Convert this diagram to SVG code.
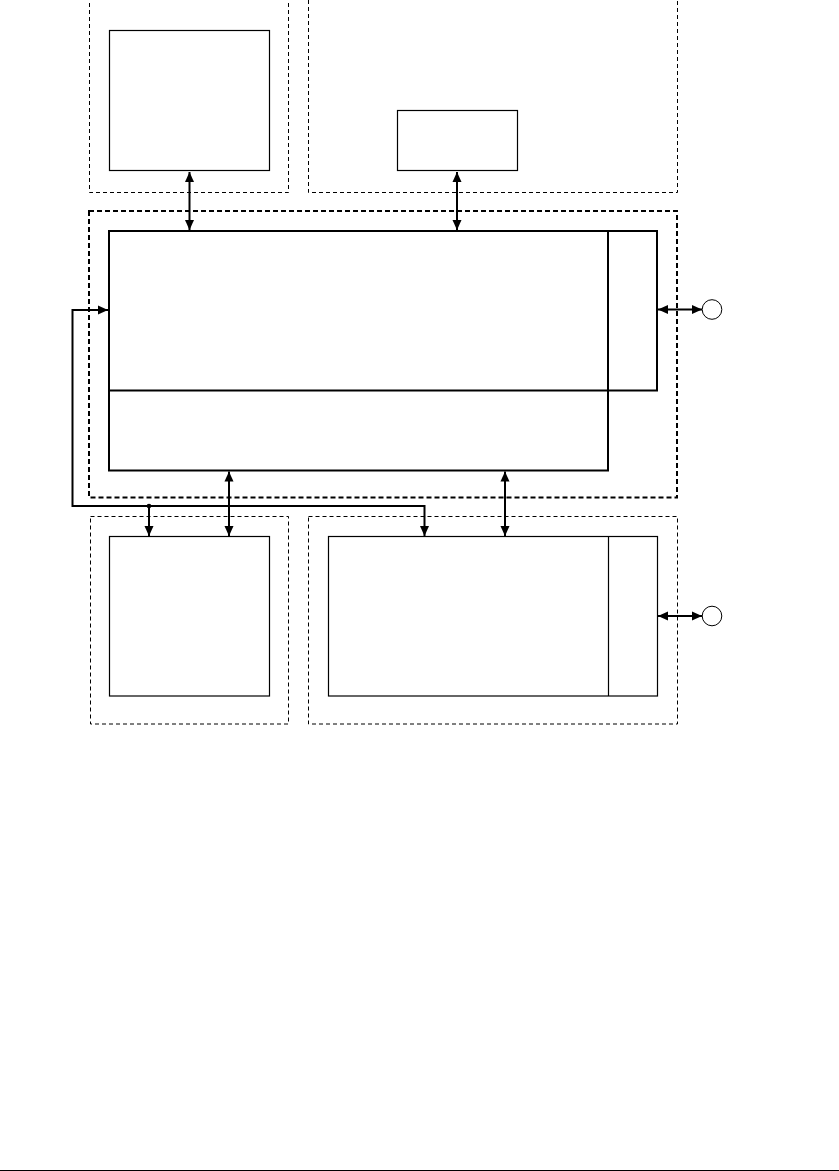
<svg xmlns="http://www.w3.org/2000/svg" width="839" height="1171" viewBox="0 0 839 1171">
<style>
.bg{fill:#fff}
.dash1{fill:none;stroke:#000;stroke-width:1;stroke-dasharray:4 3}
.dash2{fill:none;stroke:#000;stroke-width:2;stroke-dasharray:5 3}
.box1{fill:none;stroke:#000;stroke-width:1.2}
.box2{fill:none;stroke:#000;stroke-width:2}
.conn{fill:none;stroke:#000;stroke-width:2}
.port{fill:#fff;stroke:#000;stroke-width:1}
</style>
<defs>
<marker id="ah" markerUnits="userSpaceOnUse" markerWidth="10" markerHeight="10" viewBox="0 0 10 10" refX="10" refY="5" orient="auto-start-reverse">
<path d="M0,0.5 L10,5 L0,9.5 Z" fill="#000"/>
</marker>
</defs>
<rect class="bg" x="0" y="0" width="839" height="1171"/>
<g id="group-top-left">
<rect class="dash1" x="89.5" y="-1" width="199" height="193.5"/>
<rect class="box1" x="109.5" y="30.5" width="160" height="140"/>
</g>
<g id="group-top-right">
<rect class="dash1" x="308.5" y="-1" width="369" height="193.5"/>
<rect class="box1" x="397.5" y="110.5" width="120" height="60"/>
</g>
<g id="group-middle">
<rect class="dash2" x="89" y="211" width="588" height="286.5"/>
<rect class="box2" x="109" y="231" width="499" height="239.5"/>
<rect class="box2" x="608" y="231" width="49" height="159.5"/>
<line class="box2" x1="109" y1="390.5" x2="608" y2="390.5"/>
</g>
<g id="group-bottom-left">
<rect class="dash1" x="90.5" y="516.5" width="198" height="207.5"/>
<rect class="box1" x="109.5" y="536.5" width="160" height="159.5"/>
</g>
<g id="group-bottom-right">
<rect class="dash1" x="308.5" y="516.5" width="369" height="207.5"/>
<rect class="box1" x="328.5" y="536.5" width="329" height="159.5"/>
<line class="box1" x1="608.5" y1="536.5" x2="608.5" y2="696"/>
</g>
<g id="port-1"><circle class="port" cx="712" cy="309.5" r="9.8"/></g>
<g id="port-2"><circle class="port" cx="712" cy="616" r="9.8"/></g>
<g id="connectors">
<line class="conn" x1="189.5" y1="172" x2="189.5" y2="230" marker-start="url(#ah)" marker-end="url(#ah)"/>
<line class="conn" x1="457" y1="172" x2="457" y2="230" marker-start="url(#ah)" marker-end="url(#ah)"/>
<line class="conn" x1="658" y1="309.5" x2="702" y2="309.5" marker-start="url(#ah)" marker-end="url(#ah)"/>
<line class="conn" x1="658" y1="616" x2="702" y2="616" marker-start="url(#ah)" marker-end="url(#ah)"/>
<line class="conn" x1="229" y1="471.5" x2="229" y2="536" marker-start="url(#ah)" marker-end="url(#ah)"/>
<line class="conn" x1="505" y1="471.5" x2="505" y2="536" marker-start="url(#ah)" marker-end="url(#ah)"/>
<path class="conn" d="M424.5,536 L424.5,506 L72.5,506 L72.5,310 L108,310" marker-start="url(#ah)" marker-end="url(#ah)"/>
<line class="conn" x1="149" y1="506" x2="149" y2="536" marker-end="url(#ah)"/>
<circle cx="149" cy="506" r="2.3" fill="#000"/>
</g>
<line x1="0" y1="1170.5" x2="839" y2="1170.5" stroke="#000" stroke-width="1"/>
</svg>
